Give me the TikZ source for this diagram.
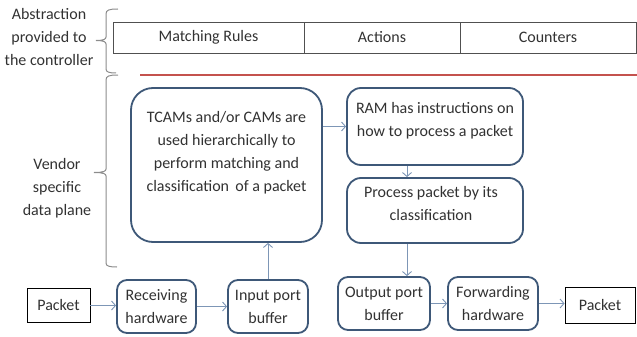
\documentclass[tikz,border=0pt]{standalone}
\usepackage{fontspec}
\setmainfont{Carlito}
\usetikzlibrary{arrows.meta}
\definecolor{boxc}{RGB}{62,88,120}
\definecolor{arrc}{RGB}{125,150,182}
\definecolor{txtc}{RGB}{50,50,50}
\definecolor{bracec}{RGB}{140,140,140}
\definecolor{tabc}{RGB}{80,80,80}
\definecolor{redl}{RGB}{196,82,78}
\tikzset{
  rbox/.style={draw=boxc, line width=1.8pt, inner sep=0pt, fill=white},
  sbox/.style={draw=black, line width=0.8pt, inner sep=0pt},
  cell/.style={draw=tabc, line width=0.9pt, inner sep=0pt, minimum height=31pt},
  txt/.style={text=txtc, align=center, font=\fontsize{16}{23}\selectfont},
  conn/.style={draw=arrc, line width=0.9pt, -{Straight Barb[length=4pt,width=9pt]}},
  brace/.style={draw=bracec, line width=1pt}
}
\begin{document}
\begin{tikzpicture}[x=1pt,y=-1pt]
\useasboundingbox (0,0) rectangle (637,337);
% left labels
\node[txt] (lab1) at (49,37) {Abstraction\\provided to\\the controller};
\node[txt] (lab2) at (57,188) {Vendor\\specific\\data plane};
% braces
\draw[brace] (118,9) .. controls (109,9) and (106,10) .. (106,14) -- (106,37) .. controls (106,39) and (104,40.5) .. (96,40.5) .. controls (104,40.5) and (106,42) .. (106,44) -- (106,69) .. controls (106,72) and (109,73) .. (116,73);
\draw[brace] (118,75) .. controls (109,75) and (106,76) .. (106,80) -- (106,169) .. controls (106,171) and (104,172.5) .. (94,172.5) .. controls (104,172.5) and (106,174) .. (106,176) -- (106,263) .. controls (106,266) and (109,267) .. (117,267);
% table
\node[cell, minimum width=191pt, txt] (match) at (208.5,37.5) {Matching Rules};
\node[cell, minimum width=156pt, txt] (act) at (382,37.5) {Actions};
\node[cell, minimum width=176pt, txt] (cnt) at (548,37.5) {Counters};
% red line
\coordinate (r1) at (140,75);
\coordinate (r2) at (637,75);
\draw[redl, line width=2.6pt] (r1) -- (r2);
% main boxes
\node[rbox, rounded corners=22pt, minimum width=191pt, minimum height=154pt] (tcam) at (226.5,165) {};
\node[txt] at (226.5,152.5) {TCAMs and/or CAMs are\\used hierarchically to\\perform matching and\\classification\, of a packet};
\node[rbox, rounded corners=14pt, minimum width=176pt, minimum height=77pt] (ram) at (435,126.5) {};
\node[txt] at (435,121) {RAM has instructions on\\how to process a packet};
\node[rbox, rounded corners=14pt, minimum width=176pt, minimum height=65pt] (proc) at (435,210.5) {};
\node[txt] at (431,203.5) {Process packet by its\\classification};
% bottom row
\node[sbox, minimum width=63pt, minimum height=34pt, txt] (pkt1) at (58.5,305.5) {Packet};
\node[rbox, rounded corners=10pt, minimum width=79pt, minimum height=53pt, txt] (recv) at (156.5,306.5) {Receiving\\hardware};
\node[rbox, rounded corners=10pt, minimum width=80pt, minimum height=53pt, txt] (inp) at (268,306.5) {Input port\\buffer};
\node[rbox, rounded corners=10pt, minimum width=92pt, minimum height=53pt, txt] (outb) at (384,303.5) {Output port\\buffer};
\node[rbox, rounded corners=10pt, minimum width=90pt, minimum height=53pt, txt] (fwd) at (493,303.5) {Forwarding\\hardware};
\node[sbox, minimum width=70pt, minimum height=36pt, txt] (pkt2) at (600,305) {Packet};
% connectors
\draw[conn] (tcam.east |- ram.west) -- (ram.west);
\draw[conn] ([xshift=-28pt]ram.south) -- ([xshift=-28pt]proc.north);
\draw[conn] ([xshift=-28pt]proc.south) -- ([xshift=-28pt]proc.south |- outb.north);
\draw[conn] (inp.north) -- (inp.north |- tcam.south);
\draw[conn] (pkt1.east) -- (pkt1.east -| recv.west);
\draw[conn] (recv.east) -- (recv.east -| inp.west);
\draw[conn] (outb.east) -- (outb.east -| fwd.west);
\draw[conn] (fwd.east) -- (fwd.east -| pkt2.west);
\end{tikzpicture}
\end{document}
